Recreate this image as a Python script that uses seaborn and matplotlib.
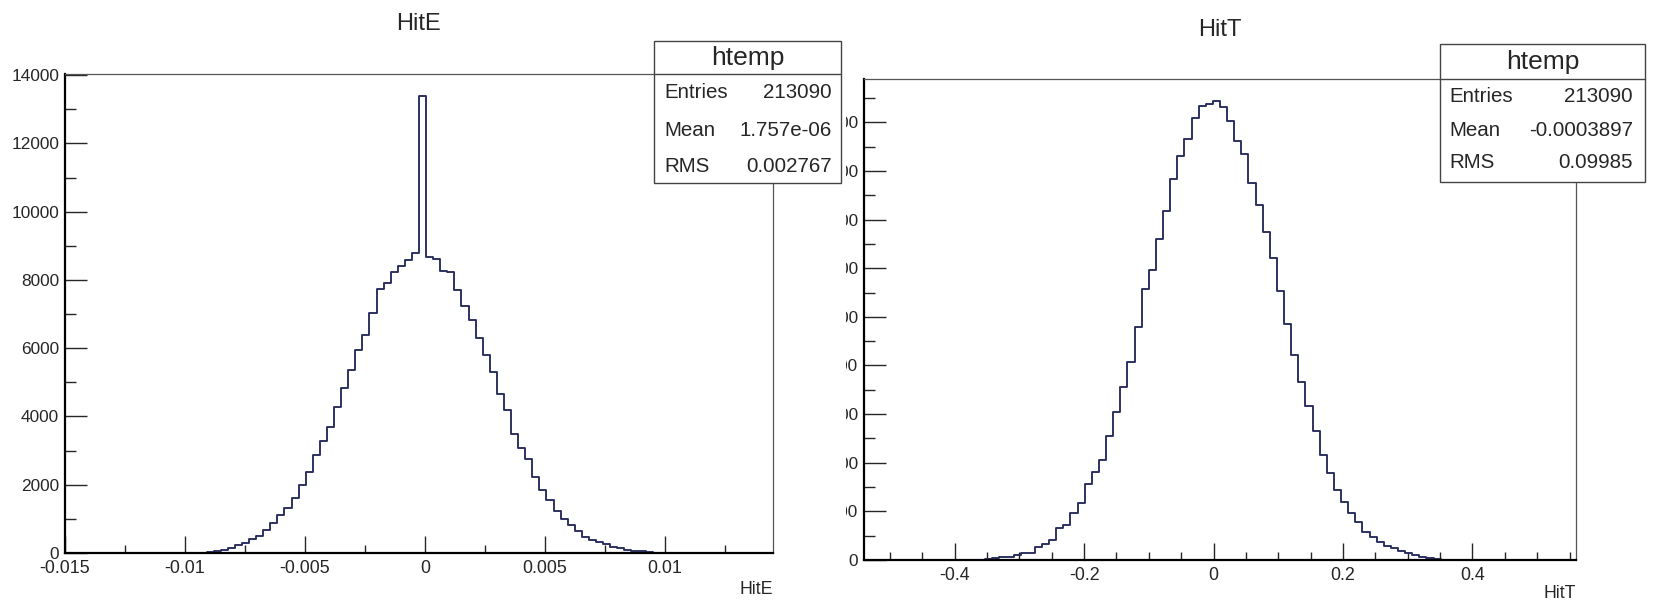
import numpy as np
import pandas as pd
import seaborn as sns
from matplotlib import pyplot as plt
from matplotlib.patches import Rectangle
from matplotlib.ticker import MultipleLocator, FuncFormatter
from matplotlib.transforms import Bbox, TransformedBbox

# bin contents (100 bins each)
hite_range = [-0.015, 0.0145]
hite_counts = [
    0, 0, 0, 0, 0, 0, 0, 0, 0, 0,
    0, 0, 0, 0, 0, 0, 0, 0, 0, 8,
    25, 50, 90, 150, 240, 280, 410, 510, 680, 880,
    1110, 1310, 1610, 1990, 2370, 2860, 3270, 3680, 4270, 4830,
    5370, 5940, 6380, 7030, 7740, 7910, 8220, 8410, 8580, 8780,
    13400, 8660, 8600, 8270, 8240, 7710, 7230, 6830, 6290, 5790,
    5310, 4670, 4180, 3500, 3070, 2755, 2225, 1860, 1540, 1235,
    995, 835, 630, 470, 390, 320, 255, 185, 145, 98,
    66, 45, 25, 8, 0, 0, 0, 0, 0, 0,
    0, 0, 0, 0, 0, 0, 0, 0, 0, 0,
]

hitt_range = [-0.54, 0.56]
hitt_counts = [
    0, 0, 0, 0, 0, 0, 0, 0, 0, 0,
    0, 0, 0, 0, 0, 0, 5, 20, 34, 55,
    69, 103, 137, 151, 261, 322, 412, 652, 720, 974,
    1180, 1557, 1818, 2058, 2558, 3038, 3567, 4081, 4787, 5576,
    5953, 6598, 7181, 7833, 8299, 8656, 9088, 9328, 9383, 9431,
    9314, 9019, 8608, 8354, 7750, 7305, 6735, 6207, 5521, 4856,
    4218, 3669, 3169, 2661, 2160, 1783, 1440, 1200, 974, 789,
    583, 480, 377, 295, 240, 192, 137, 103, 69, 41,
    27, 10, 3, 0, 0, 0, 0, 0, 0, 0,
    0, 0, 0, 0, 0, 0, 0, 0, 0, 0,
]

stats_hite = [("Entries", "213090"), ("Mean", "1.757e-06"), ("RMS", "0.002767")]
stats_hitt = [("Entries", "213090"), ("Mean", "-0.0003897"), ("RMS", "0.09985")]

W, H = 1653, 603
line_color = "#262a5c"

sns.set_style("white")
plt.rcParams["font.family"] = ["Liberation Sans", "DejaVu Sans"]

fig = plt.figure(figsize=(W / 100, H / 100), dpi=100)
fig.patch.set_facecolor("white")


def px_axes(left, top, right, bottom):
    return fig.add_axes([left / W, 1 - bottom / H, (right - left) / W, (bottom - top) / H])


def tick_label(v, pos):
    s = f"{round(v, 6):g}"
    return "0" if s == "-0" else s


def draw_hist(ax, counts, rng, name, xmaj, xmin, ymaj, ymin, ytop, xlab_y):
    edges = np.linspace(rng[0], rng[1], len(counts) + 1)
    df = pd.DataFrame({"value": (edges[:-1] + edges[1:]) / 2, "count": counts})
    sns.histplot(data=df, x="value", weights="count", bins=edges.tolist(), element="step",
                 fill=False, color=line_color, linewidth=1.35, ax=ax)
    ax.set_xlim(rng)
    ax.set_ylim(0, ytop)
    ax.set_ylabel("")
    ax.set_title(name, fontsize=17, pad=31)
    ax.set_xlabel(name, fontsize=12.8, loc="right")
    ax.xaxis.set_label_coords(1.0, xlab_y)

    ax.xaxis.set_major_locator(MultipleLocator(xmaj))
    ax.xaxis.set_minor_locator(MultipleLocator(xmin))
    ax.yaxis.set_major_locator(MultipleLocator(ymaj))
    ax.yaxis.set_minor_locator(MultipleLocator(ymin))
    ax.xaxis.set_major_formatter(FuncFormatter(tick_label))
    ax.yaxis.set_major_formatter(FuncFormatter(tick_label))

    ax.tick_params(axis="y", which="major", direction="in", length=15.5, width=1.0,
                   pad=4.3, labelsize=12.4, left=True)
    ax.tick_params(axis="y", which="minor", direction="in", length=8, width=1.0, left=True)
    ax.tick_params(axis="x", which="major", direction="in", length=12, width=1.0,
                   pad=5.3, labelsize=12.9, bottom=True)
    ax.tick_params(axis="x", which="minor", direction="in", length=5.5, width=1.0, bottom=True)

    for side in ["left", "bottom"]:
        ax.spines[side].set_color("black")
        ax.spines[side].set_linewidth(1.6)
    for side in ["top", "right"]:
        ax.spines[side].set_color("#555555")
        ax.spines[side].set_linewidth(0.9)


ax1 = px_axes(65, 73.5, 773, 553)
draw_hist(ax1, hite_counts, hite_range, "HitE", 0.005, 0.0025, 2000, 1000, 14050,
          -(581 - 553) / (553 - 73.5))

ax2 = px_axes(864, 79, 1576, 560)
draw_hist(ax2, hitt_counts, hitt_range, "HitT", 0.2, 0.05, 1000, 500, 9890,
          -(585 - 560) / (560 - 79))

# overlay in pixel coordinates for the two stat boxes
ov = fig.add_axes([0, 0, 1, 1])
ov.set_xlim(0, W)
ov.set_ylim(H, 0)
ov.axis("off")
ov.set_zorder(10)


def stat_box(x0, x1, top, sep, bot, rows, row_y, lab_x, val_x):
    ov.add_patch(Rectangle((x0, top), x1 - x0, bot - top, facecolor="white",
                           edgecolor="#444444", lw=1.0))
    ov.plot([x0, x1], [sep, sep], color="#444444", lw=1.0)
    ov.text((x0 + x1) / 2, (top + sep) / 2 + 1, "htemp", ha="center", va="center", fontsize=19)
    for (lab, val), y in zip(rows, row_y):
        ov.text(lab_x, y, lab, ha="left", va="center", fontsize=14.8)
        ov.text(val_x, y, val, ha="right", va="center", fontsize=14.8)


stat_box(654, 841, 41, 73.5, 183, stats_hite, [93, 130, 166], 664, 832)
stat_box(1440, 1645, 44, 78.5, 182, stats_hitt, [97, 131, 163], 1449, 1633)

# the right picture was cropped: its y labels are cut at the left
fig.canvas.draw()
clip = TransformedBbox(Bbox.from_extents(846 / W, 0, 1, 1), fig.transFigure)
for t in ax2.yaxis.get_major_ticks():
    t.label1.set_clip_box(clip)
    t.label1.set_clip_on(True)

fig.savefig("out.png", dpi=100, facecolor="white")
